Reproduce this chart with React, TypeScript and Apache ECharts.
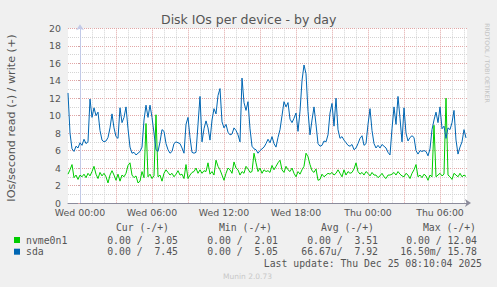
import React, { useEffect, useRef } from "react";
import * as echarts from "echarts";

// time of first sample (hours from Wed 00:00) and sample step (10 minutes)
const START_HOUR = -1;
const STEP_HOURS = 1 / 6;

const xTickHours = [0, 6, 12, 18, 24, 30];
const xTickLabels = ["Wed 00:00", "Wed 06:00", "Wed 12:00", "Wed 18:00", "Thu 00:00", "Thu 06:00"];

// IOs/second write (+), sda
const sdaWrite = [
  12.6, 8.0, 6.2, 5.9, 6.5, 6.3, 6.9, 6.6, 7.3, 6.8,
  7.0, 11.9, 9.8, 10.9, 10.0, 10.4, 8.3, 7.2, 7.0, 7.1,
  7.5, 8.6, 10.2, 8.6, 7.6, 7.4, 10.9, 9.2, 9.8, 11.0,
  8.5, 6.4, 5.7, 5.8, 5.5, 5.7, 5.9, 6.4, 9.5, 11.2,
  9.8, 11.2, 9.8, 8.0, 6.1, 5.9, 7.0, 8.4, 8.2, 6.8,
  6.1, 5.7, 5.9, 6.8, 7.0, 6.9, 6.8, 6.3, 5.7, 9.0,
  9.8, 7.5, 5.8, 5.7, 5.8, 9.0, 12.2, 7.0, 8.5, 9.4,
  8.6, 7.2, 9.5, 10.8, 10.2, 12.3, 13.1, 9.3, 8.6, 9.0,
  8.1, 7.8, 7.9, 8.6, 8.3, 7.8, 7.0, 14.3, 11.5, 10.6,
  11.6, 8.5, 6.5, 6.2, 6.1, 5.7, 6.0, 6.2, 6.4, 6.8,
  7.3, 6.9, 7.6, 6.8, 6.4, 7.5, 8.4, 10.0, 11.6, 11.0,
  11.5, 9.6, 9.2, 9.7, 10.3, 8.2, 10.5, 14.0, 15.8, 14.8,
  10.5, 7.8, 9.5, 11.0, 9.0, 6.8, 6.5, 6.6, 7.1, 7.0,
  7.8, 10.3, 11.4, 8.8, 12.0, 8.4, 7.4, 7.6, 7.2, 6.9,
  6.6, 6.5, 6.7, 6.1, 6.3, 6.8, 7.4, 7.7, 6.6, 6.8,
  9.0, 10.8, 8.3, 6.8, 6.3, 6.6, 6.3, 6.7, 6.5, 6.3,
  5.8, 5.5, 8.5, 11.0, 9.0, 12.2, 9.7, 7.0, 10.9, 8.0,
  7.1, 7.5, 7.7, 7.5, 6.0, 5.6, 6.0, 5.9, 6.0, 5.9,
  5.4, 6.2, 8.4, 9.5, 10.4, 9.2, 11.0, 8.5, 8.8, 7.4,
  8.6, 8.4, 9.2, 10.6, 7.2, 5.6, 6.4, 7.0, 8.4, 7.45,
];

// IOs/second write (+), nvme0n1
const nvmeWrite = [
  3.3, 3.8, 4.4, 2.9, 3.2, 2.7, 3.2, 3.0, 3.3, 2.9,
  3.4, 3.1, 3.6, 4.2, 3.3, 2.8, 3.5, 3.1, 3.4, 3.0,
  2.3, 3.2, 3.7, 3.2, 2.6, 3.3, 2.5, 3.2, 3.0, 3.4,
  4.3, 4.6, 3.2, 2.9, 3.1, 2.3, 2.5, 3.6, 2.9, 9.1,
  3.0, 3.3, 2.8, 3.1, 10.1, 3.0, 3.2, 2.5, 3.4, 3.8,
  3.5, 3.2, 3.4, 3.0, 3.3, 3.7, 3.2, 3.3, 2.8, 4.4,
  2.8, 3.2, 3.5, 3.6, 4.0, 3.4, 3.8, 3.4, 3.7, 3.6,
  4.6, 3.3, 3.6, 3.2, 4.9, 4.2, 3.8, 3.2, 2.6, 3.4,
  4.0, 3.8, 3.4, 4.7, 4.0, 3.8, 3.2, 3.6, 3.4, 4.2,
  3.9, 3.5, 3.6, 5.7, 4.6, 3.6, 4.0, 3.4, 3.8, 3.6,
  3.7, 3.5, 4.3, 3.8, 4.2, 4.6, 4.9, 3.8, 3.5, 4.2,
  3.8, 3.6, 4.0, 3.4, 3.0, 3.6, 3.3, 3.8, 4.2, 5.7,
  5.3, 4.4, 3.7, 3.5, 3.9, 2.6, 2.7, 3.3, 3.0, 3.2,
  3.4, 3.3, 3.5, 3.2, 3.4, 3.8, 3.4, 3.0, 3.8, 3.2,
  3.6, 3.4, 3.5, 3.9, 4.6, 3.6, 3.3, 3.5, 3.2, 3.6,
  3.4, 3.1, 3.5, 3.2, 3.2, 2.9, 3.1, 3.4, 3.0, 2.8,
  3.2, 3.2, 3.3, 3.5, 3.2, 3.6, 3.3, 3.1, 3.0, 3.4,
  3.2, 2.8, 3.4, 3.8, 4.4, 3.0, 3.2, 2.9, 3.3, 3.1,
  2.6, 3.2, 3.0, 8.9, 3.0, 3.2, 3.4, 3.1, 3.3, 12.0,
  3.2, 3.0, 2.7, 3.4, 3.2, 3.0, 3.4, 3.0, 3.2, 3.05,
];

const seriesNames = ["nvme0n1", "sda"];
const seriesColors = ["#00cc00", "#0066b3"];
const legendHeaders = ["Cur (-/+)", "Min (-/+)", "Avg (-/+)", "Max (-/+)"];
const legendCur = ["0.00 /  3.05", "0.00 /  7.45"];
const legendMin = ["0.00 /  2.01", "0.00 /  5.05"];
const legendAvg = ["0.00 /  3.51", "66.67u/  7.92"];
const legendMax = ["0.00 / 12.04", "16.50m/ 15.78"];

const TITLE = "Disk IOs per device - by day";
const Y_NAME = "IOs/second read (-) / write (+)";
const LAST_UPDATE = "Last update: Thu Dec 25 08:10:04 2025";
const FOOTER = "Munin 2.0.73";
const SIDE = "RRDTOOL / TOBI OETIKER";

const toPairs = (vals: number[]) => vals.map((v, i) => [START_HOUR + i * STEP_HOURS, v]);

export default function App() {
  const ref = useRef<HTMLDivElement>(null);
  useEffect(() => {
    if (!ref.current) return;
    const chart = echarts.init(ref.current, null, { renderer: "svg" });
    const mono = "9.8px 'DejaVu Sans Mono'";
    const txt = "#555";
    const colRight = [178, 278, 378, 477];
    const headRight = [169, 272, 374, 476];
    const rowY = [240, 251.7];
    const cols = [legendCur, legendMin, legendAvg, legendMax];
    const graphics: any[] = [];
    legendHeaders.forEach((h, i) =>
      graphics.push({ type: "text", style: { text: h, x: headRight[i], y: 227, font: mono, fill: txt, textAlign: "right", textVerticalAlign: "middle" } })
    );
    seriesNames.forEach((n, r) => {
      graphics.push({ type: "rect", shape: { x: 14, y: rowY[r] - 3, width: 6, height: 6 }, style: { fill: seriesColors[r] } });
      graphics.push({ type: "text", style: { text: n, x: 26, y: rowY[r], font: mono, fill: txt, textAlign: "left", textVerticalAlign: "middle" } });
      cols.forEach((c, i) =>
        graphics.push({ type: "text", style: { text: c[r], x: colRight[i], y: rowY[r], font: mono, fill: txt, textAlign: "right", textVerticalAlign: "middle" } })
      );
    });
    graphics.push({ type: "text", style: { text: LAST_UPDATE, x: 482, y: 263, font: mono, fill: txt, textAlign: "right", textVerticalAlign: "middle" } });
    graphics.push({ type: "text", style: { text: FOOTER, x: 247.5, y: 276, font: "7.5px 'DejaVu Sans'", fill: "#c8c8c8", textAlign: "center", textVerticalAlign: "middle" } });
    graphics.push({ type: "text", x: 11.7, y: 118, rotation: Math.PI / 2, style: { text: Y_NAME, x: 0, y: 0, font: "11.2px 'DejaVu Sans'", fill: txt, textAlign: "center", textVerticalAlign: "middle" } });
    graphics.push({ type: "text", x: 487, y: 63, rotation: -Math.PI / 2, style: { text: SIDE, x: 0, y: 0, font: "6.2px 'DejaVu Sans'", fill: "#c4c4c4", textAlign: "center", textVerticalAlign: "middle" } });
    graphics.push({ type: "text", style: { text: TITLE, x: 248.7, y: 19, font: "12.5px 'DejaVu Sans'", fill: "#555", textAlign: "center", textVerticalAlign: "middle" } });

    const major = "#e2a6a6";
    const minor = "#d4d4d4";
    chart.setOption({
      animation: false,
      backgroundColor: "#f0f0f0",
      textStyle: { fontFamily: "DejaVu Sans" },
      grid: { left: 68, top: 28.3, width: 399, height: 174.7, show: true, backgroundColor: "#ffffff", borderWidth: 0 },
      xAxis: {
        type: "value",
        min: -1,
        max: 32.25,
        interval: 1,
        axisLine: { lineStyle: { color: "#8c8c9c", width: 1 }, symbol: ["none", "arrow"], symbolSize: [6, 6], symbolOffset: [0, 4] },
        axisTick: { show: false },
        axisLabel: {
          margin: 5,
          fontSize: 9.4,
          color: "#555",
          hideOverlap: false,
          formatter: (v: number) => {
            const i = xTickHours.findIndex((h) => Math.abs(h - v) < 1e-6);
            return i >= 0 ? xTickLabels[i] : "";
          },
        },
        splitLine: { show: true, showMinLine: false, showMaxLine: false, lineStyle: { color: [major, minor, minor], type: [1, 1], width: 1 } },
      },
      yAxis: {
        type: "value",
        min: 0,
        max: 20,
        interval: 2,
        axisLine: { show: true, lineStyle: { color: "#c2cae8", width: 1 }, symbol: ["none", "arrow"], symbolSize: [6, 6], symbolOffset: [0, 4] },
        axisTick: { show: true, length: 2, lineStyle: { color: "#d0a0a0" } },
        axisLabel: { margin: 7, fontSize: 9.4, color: "#555" },
        splitLine: { show: true, showMinLine: false, lineStyle: { color: major, type: [1, 1], width: 1 } },
        minorTick: { show: false, splitNumber: 2 },
        minorSplitLine: { show: true, lineStyle: { color: minor, type: [1, 1], width: 1 } },
      },
      series: [
        { name: seriesNames[0], type: "line", data: toPairs(nvmeWrite), showSymbol: false, symbol: "none", lineStyle: { color: seriesColors[0], width: 1 }, itemStyle: { color: seriesColors[0] }, clip: true },
        { name: seriesNames[1], type: "line", data: toPairs(sdaWrite), showSymbol: false, symbol: "none", lineStyle: { color: seriesColors[1], width: 1 }, itemStyle: { color: seriesColors[1] }, clip: true },
      ],
      graphic: graphics,
    });
    return () => chart.dispose();
  }, []);
  return <div ref={ref} style={{ position: "fixed", left: 0, top: 0, width: 497, height: 287 }} />;
}
